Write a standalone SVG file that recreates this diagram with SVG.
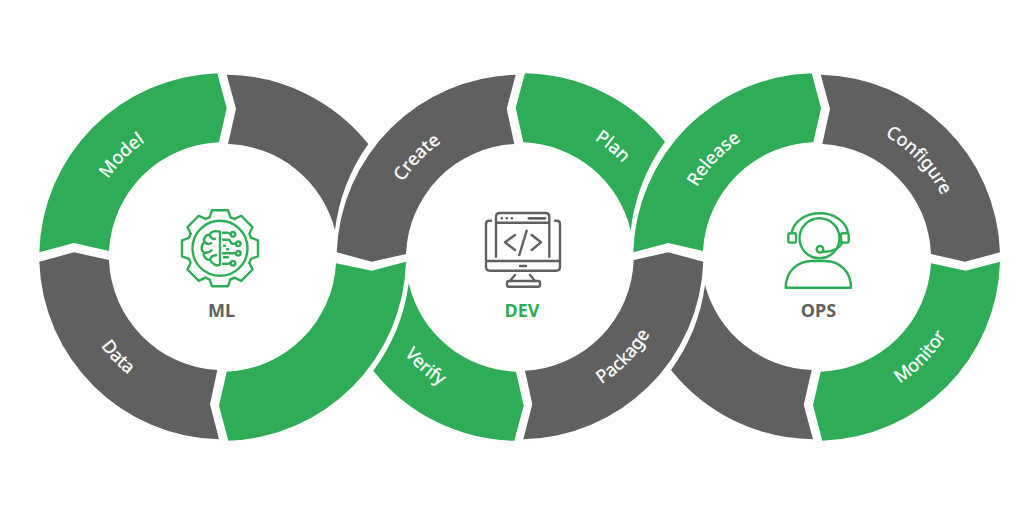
<svg xmlns="http://www.w3.org/2000/svg" xmlns:xlink="http://www.w3.org/1999/xlink" width="1024" height="512" viewBox="0 0 1024 512">
<style>
.g{fill:#2EAD56}.k{fill:#606060}
.l{fill:#fff;stroke:#fff;stroke-width:.3px;font-family:"Noto Sans","Open Sans",sans-serif;font-size:18px;text-anchor:middle}
.t{font-family:"Noto Sans","Open Sans",sans-serif;font-size:18px;font-weight:700;text-anchor:middle}
.ig{fill:none;stroke:#2EAD56;stroke-width:2.4;stroke-linejoin:round;stroke-linecap:round}
.ik{fill:none;stroke:#606060;stroke-width:2.4;stroke-linejoin:round;stroke-linecap:round}
</style>
<defs>
<path id="up" d="M-98.3 -98.3A139 139 0 0 1 98.3 -98.3"/>
<path id="dn" d="M-106.8 106.8A151 151 0 0 0 106.8 106.8"/>
<path id="tooth" d="M-10.5 -31L-8 -38H8L10.5 -31A32.7 32.7 0 0 1 14.5 -29.3"/>
</defs>
<rect width="1024" height="512" fill="#fff"/>
<g id="connectors"/>
<g id="seg-model"><path class="g" d="M39.3 252.3A184 184 0 0 1 217.3 73.3L226.7 108.3L219 142.3A114.5 114.5 0 0 0 109 251L74 243Z"/><text class="l" transform="translate(223 257) rotate(-45)"><textPath xlink:href="#up" href="#up" startOffset="50%">Model</textPath></text></g>
<g id="seg-ml-gray"><path class="k" d="M226.7 74.7A184 184 0 0 1 368.3 144A188 188 0 0 0 335 230A114.5 114.5 0 0 0 228 144L236 108.7Z"/></g>
<g id="seg-ml-green"><path class="g" d="M406 261.7A184 184 0 0 1 228.3 440.7L219 405.7L226.7 371.7A114.5 114.5 0 0 0 336 263.3L371.7 270.7Z"/></g>
<g id="seg-data"><path class="k" d="M219 439.3A184 184 0 0 1 39.3 261.7L74 252.3L109 260A114.5 114.5 0 0 0 217.3 370L210 404.3Z"/><text class="l" transform="translate(223 257) rotate(46.4)"><textPath xlink:href="#dn" href="#dn" startOffset="50%">Data</textPath></text></g>
<g id="seg-create"><path class="k" d="M336.7 252.3A184 184 0 0 1 515.7 74.7L506.7 108.7L514.3 144A114.5 114.5 0 0 0 406 254L371.7 261.7Z"/><text class="l" transform="translate(520 257) rotate(-46)"><textPath xlink:href="#up" href="#up" startOffset="50%">Create</textPath></text></g>
<g id="seg-plan"><path class="g" d="M525 73.3A184 184 0 0 1 665 141.7A188 188 0 0 0 630.7 230.7A114.5 114.5 0 0 0 523.3 142.3L515.7 107.7Z"/><text class="l" transform="translate(520 257) rotate(40)"><textPath xlink:href="#up" href="#up" startOffset="50%">Plan</textPath></text></g>
<g id="seg-package"><path class="k" d="M703.3 261.7A184 184 0 0 1 523.3 439.3L532.3 404.3L525 370.7A114.5 114.5 0 0 0 633.7 260L668.3 252.3Z"/><text class="l" transform="translate(520 257) rotate(-46)"><textPath xlink:href="#dn" href="#dn" startOffset="50%">Package</textPath></text></g>
<g id="seg-verify"><path class="g" d="M514.3 440.7A184 184 0 0 1 373.3 370.7A188 188 0 0 0 408.7 283.3A114.5 114.5 0 0 0 516 371.7L523.7 405.7Z"/><text class="l" transform="translate(520 257) rotate(40.8)"><textPath xlink:href="#dn" href="#dn" startOffset="50%">Verify</textPath></text></g>
<g id="seg-release"><path class="g" d="M633.3 252.3A184 184 0 0 1 811.7 73.3L821 108.3L813.3 142.3A114.5 114.5 0 0 0 703 251L668.3 243Z"/><text class="l" transform="translate(817 257) rotate(-46.500)"><textPath xlink:href="#up" href="#up" startOffset="50%">Release</textPath></text></g>
<g id="seg-configure"><path class="k" d="M820.700 74.700A184 184 0 0 1 1000 252.300L965 261.700L931 254A114.500 114.500 0 0 0 822.300 144L830 108.700Z"/><text class="l" transform="translate(817 257) rotate(46.500)"><textPath xlink:href="#up" href="#up" startOffset="50%">Configure</textPath></text></g>
<g id="seg-monitor"><path class="g" d="M1000 261.700A184 184 0 0 1 822.300 440.700L813 405.300L820.700 371.700A114.500 114.500 0 0 0 931 263.300L965.700 270.700Z"/><text class="l" transform="translate(817 257) rotate(-46)"><textPath xlink:href="#dn" href="#dn" startOffset="50%">Monitor</textPath></text></g>
<g id="seg-ops-gray"><path class="k" d="M813 439.300A184 184 0 0 1 671 370A188 188 0 0 0 705 285A114.500 114.500 0 0 0 811.700 370L803.700 404.700Z"/></g>
<g id="node-ml">
<g class="ig" transform="translate(220 248.300)">
<use href="#tooth"/><use href="#tooth" transform="rotate(45)"/><use href="#tooth" transform="rotate(90)"/><use href="#tooth" transform="rotate(135)"/><use href="#tooth" transform="rotate(180)"/><use href="#tooth" transform="rotate(225)"/><use href="#tooth" transform="rotate(270)"/><use href="#tooth" transform="rotate(315)"/>
<circle r="27.500"/>
<path d="M0 -16.500V16.500M0 -16.500C-4 -18 -9 -17 -10.500 -13.500C-15 -13.500 -17 -9 -15.500 -6C-19 -3.500 -19.500 2 -16 4C-17 9 -13 12 -10 11.500C-8 16 -3 18 0 16.500M-10.500 -13.500C-9 -10 -7 -9 -5 -9.500M-15.500 -6C-13 -4 -11 -4 -9 -5M-16 4C-13 5 -10 4 -8.500 2M-10 11.500C-9 8 -7 7 -4 7"/>
<path d="M3 -15.500H8L10.500 -14"/><circle cx="13" cy="-14" r="2.300"/>
<path d="M3 -8.500H9L12 -4.500H16"/><circle cx="18.300" cy="-4.500" r="2.300"/>
<path d="M3 5H16"/><circle cx="18.300" cy="5" r="2.300"/>
<path d="M3 15.500H8L10.500 14.500"/><circle cx="13" cy="15" r="2.300"/>
<path d="M4 -2.500H5M7 1H8M4 9H8"/>
</g>
<text class="t" x="221.500" y="317" fill="#606060">ML</text>
</g>
<g id="node-dev">
<g class="ik">
<path d="M491 220.700H489Q486 220.700 486 224V267Q486 270.700 490 270.700H556Q560 270.700 560 267V224Q560 220.700 557 220.700H555M486 261H560M520 266H526"/>
<path d="M515 275L510 281M530 275L535 281"/>
<rect x="507" y="281" width="33" height="5.700" rx="2"/>
<path d="M496 256.700V216.700Q496 213 500 213H545.500Q549.300 213 549.300 216.700V256.700M496 222.700H549.300"/>
<path d="M501.700 218.300H502M506.700 218.300H507M511.700 218.300H512"/>
<path d="M529 218.300H545" stroke-width="2.800"/>
<path d="M515 235L505 242.300L515 250M531.700 235L541 242.300L531.700 250M526.700 230.700L519.300 255"/>
</g>
<text class="t" x="522" y="317" fill="#2EAD56">DEV</text>
</g>
<g id="node-ops">
<g class="ig">
<circle cx="819.500" cy="238.300" r="20"/>
<path d="M791.700 233A28.300 22 0 0 1 848 233"/>
<rect x="788.300" y="233.300" width="7.700" height="9.300" rx="1.500"/>
<rect x="841" y="233.300" width="7.700" height="9.300" rx="1.500"/>
<circle cx="820" cy="249.300" r="3.300"/>
<path d="M823.300 251.700Q838 252 842.500 242.600"/>
<path d="M785.700 287.700C785.700 272 797 261 812 261H825C840 261 851 272 851 287.700Z"/>
</g>
<text class="t" x="818.500" y="317" fill="#606060">OPS</text>
</g>
</svg>
